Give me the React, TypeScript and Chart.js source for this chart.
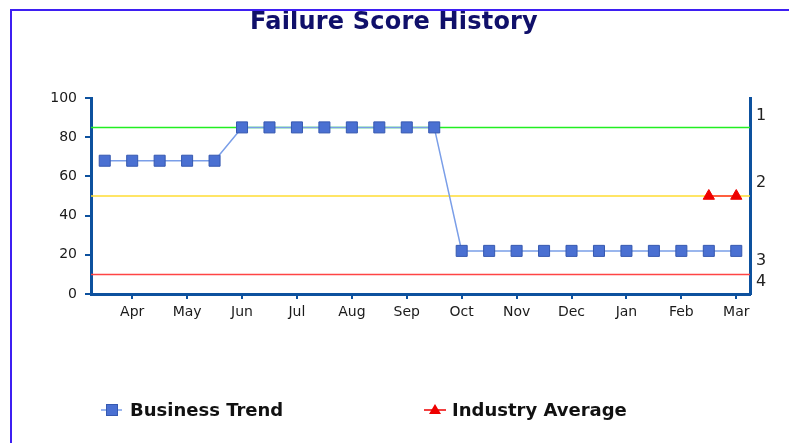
import React, { useEffect, useRef } from "react";
import { Chart, registerables } from "chart.js";

Chart.register(...registerables);

const TITLE = "Failure Score History";
const monthLabels = ["Apr", "May", "Jun", "Jul", "Aug", "Sep", "Oct", "Nov", "Dec", "Jan", "Feb", "Mar"];
// half-month positions: month k sits at index 2k+1
const monthPositions = monthLabels.map((_, k) => 2 * k + 1);
const businessTrend = [68, 68, 68, 68, 68, 85, 85, 85, 85, 85, 85, 85, 85, 22, 22, 22, 22, 22, 22, 22, 22, 22, 22, 22];
const industryAverage = [null, null, null, null, null, null, null, null, null, null, null, null, null, null, null, null, null, null, null, null, null, null, 50, 50];
const thresholdValues = [85, 50, 10];
const thresholdColors = ["#22ee22", "#ffdd33", "#ff4444"];
const ratingLabels = ["1", "2", "3", "4"];
const ratingPositions = [91, 56.5, 17, 6];
const xMin = -0.5;
const xMax = 23.5;

const AXIS_BLUE = "#0d519e";
const TREND_LINE = "#7a9ee8";
const TREND_FILL = "#4a70d2";
const TREND_BORDER = "#3659b0";
const IND_RED = "#ee0000";

const overlayPlugin = {
  id: "overlay",
  afterDraw(chart: any) {
    const ctx = chart.ctx;
    ctx.save();
    // title
    ctx.fillStyle = "#10106a";
    ctx.font = "bold 24px 'DejaVu Sans'";
    (ctx as any).letterSpacing = "0.2px";
    ctx.textAlign = "center";
    ctx.textBaseline = "middle";
    ctx.fillText(TITLE, 394, 23);
    (ctx as any).letterSpacing = "0px";

    // legend
    const ly = 410;
    ctx.font = "bold 18px 'DejaVu Sans'";
    ctx.textAlign = "left";
    ctx.fillStyle = "#111";
    // item 1
    ctx.strokeStyle = TREND_LINE;
    ctx.lineWidth = 1.5;
    ctx.beginPath();
    ctx.moveTo(101, ly);
    ctx.lineTo(122, ly);
    ctx.stroke();
    ctx.fillStyle = TREND_FILL;
    ctx.strokeStyle = TREND_BORDER;
    ctx.lineWidth = 1;
    ctx.fillRect(106.5, ly - 5.5, 11, 11);
    ctx.strokeRect(106.5, ly - 5.5, 11, 11);
    ctx.fillStyle = "#111";
    ctx.fillText(chart.data.datasets[0].label, 130, ly + 1);
    // item 2
    ctx.strokeStyle = IND_RED;
    ctx.lineWidth = 1.5;
    ctx.beginPath();
    ctx.moveTo(424, ly);
    ctx.lineTo(446, ly);
    ctx.stroke();
    ctx.fillStyle = IND_RED;
    ctx.beginPath();
    ctx.moveTo(435, ly - 6);
    ctx.lineTo(441, ly + 4);
    ctx.lineTo(429, ly + 4);
    ctx.closePath();
    ctx.fill();
    ctx.fillStyle = "#111";
    ctx.fillText(chart.data.datasets[1].label, 452, ly + 1);
    ctx.restore();
  },
};

export default function App() {
  const ref = useRef<HTMLCanvasElement | null>(null);

  useEffect(() => {
    if (!ref.current) return;
    const trendData = businessTrend.map((y, i) => ({ x: i, y }));
    const indData = industryAverage
      .map((y, i) => ({ x: i, y }))
      .filter((p) => p.y !== null);
    const thresholdSets = thresholdValues.map((v, i) => ({
      label: "threshold" + i,
      data: [
        { x: xMin, y: v },
        { x: xMax, y: v },
      ],
      borderColor: thresholdColors[i],
      borderWidth: 1.5,
      pointRadius: 0,
      yAxisID: "y",
      order: 10,
    }));

    const chart = new Chart(ref.current, {
      type: "line",
      data: {
        datasets: [
          {
            label: "Business Trend",
            data: trendData,
            borderColor: TREND_LINE,
            borderWidth: 1.5,
            pointStyle: "rect",
            pointRadius: 7.8,
            pointBackgroundColor: TREND_FILL,
            pointBorderColor: TREND_BORDER,
            pointBorderWidth: 1,
            yAxisID: "y",
            order: 1,
          },
          {
            label: "Industry Average",
            data: indData,
            borderColor: "#ff3333",
            borderWidth: 1.5,
            pointStyle: "triangle",
            pointRadius: 6.5,
            pointBackgroundColor: IND_RED,
            pointBorderColor: IND_RED,
            pointBorderWidth: 1,
            yAxisID: "y",
            order: 0,
          },
          ...thresholdSets,
        ] as any,
      },
      options: {
        animation: false,
        responsive: false,
        events: [],
        layout: { padding: { left: 0, right: 0, top: 98, bottom: 119 } },
        plugins: {
          legend: { display: false },
          title: { display: false },
          tooltip: { enabled: false },
        },
        scales: {
          x: {
            type: "linear",
            min: xMin,
            max: xMax,
            afterBuildTicks: (scale: any) => {
              scale.ticks = monthPositions.map((v) => ({ value: v }));
            },
            afterFit: (scale: any) => {
              scale.height = 30;
            },
            ticks: {
              autoSkip: false,
              maxRotation: 0,
              padding: 5,
              color: "#1a1a1a",
              font: { family: "'DejaVu Sans'", size: 14 },
              callback: (value: any) => monthLabels[(Number(value) - 1) / 2] ?? "",
            },
            grid: {
              drawOnChartArea: false,
              drawTicks: true,
              tickLength: 5,
              color: AXIS_BLUE,
              lineWidth: 2,
            },
            border: { display: true, color: AXIS_BLUE, width: 3 },
          },
          y: {
            type: "linear",
            position: "left",
            min: 0,
            max: 100,
            afterFit: (scale: any) => {
              scale.width = 91;
            },
            ticks: {
              stepSize: 20,
              padding: 8,
              color: "#1a1a1a",
              font: { family: "'DejaVu Sans'", size: 14 },
            },
            grid: {
              drawOnChartArea: false,
              drawTicks: true,
              tickLength: 6,
              color: AXIS_BLUE,
              lineWidth: 2,
            },
            border: { display: true, color: AXIS_BLUE, width: 3 },
          },
          y1: {
            type: "linear",
            position: "right",
            min: 0,
            max: 100,
            afterBuildTicks: (scale: any) => {
              scale.ticks = ratingPositions.map((v) => ({ value: v }));
            },
            afterFit: (scale: any) => {
              scale.width = 39;
            },
            ticks: {
              autoSkip: false,
              padding: 6,
              color: "#222",
              font: { family: "'DejaVu Sans'", size: 16 },
              callback: (value: any) => ratingLabels[ratingPositions.indexOf(Number(value))] ?? "",
            },
            grid: {
              drawOnChartArea: false,
              drawTicks: false,
            },
            border: { display: true, color: AXIS_BLUE, width: 3 },
          },
        },
      } as any,
      plugins: [overlayPlugin],
    });
    return () => chart.destroy();
  }, []);

  return (
    <div style={{ position: "fixed", left: 0, top: 0, width: 789, height: 443, background: "#fff" }}>
      <canvas ref={ref} width={789} height={443} style={{ position: "absolute", left: 0, top: 0 }} />
      <div
        style={{
          position: "absolute",
          left: 10,
          top: 9,
          right: 0,
          bottom: 0,
          borderTop: "2px solid #3e1ff2",
          borderLeft: "2px solid #3e1ff2",
          pointerEvents: "none",
        }}
      />
    </div>
  );
}
